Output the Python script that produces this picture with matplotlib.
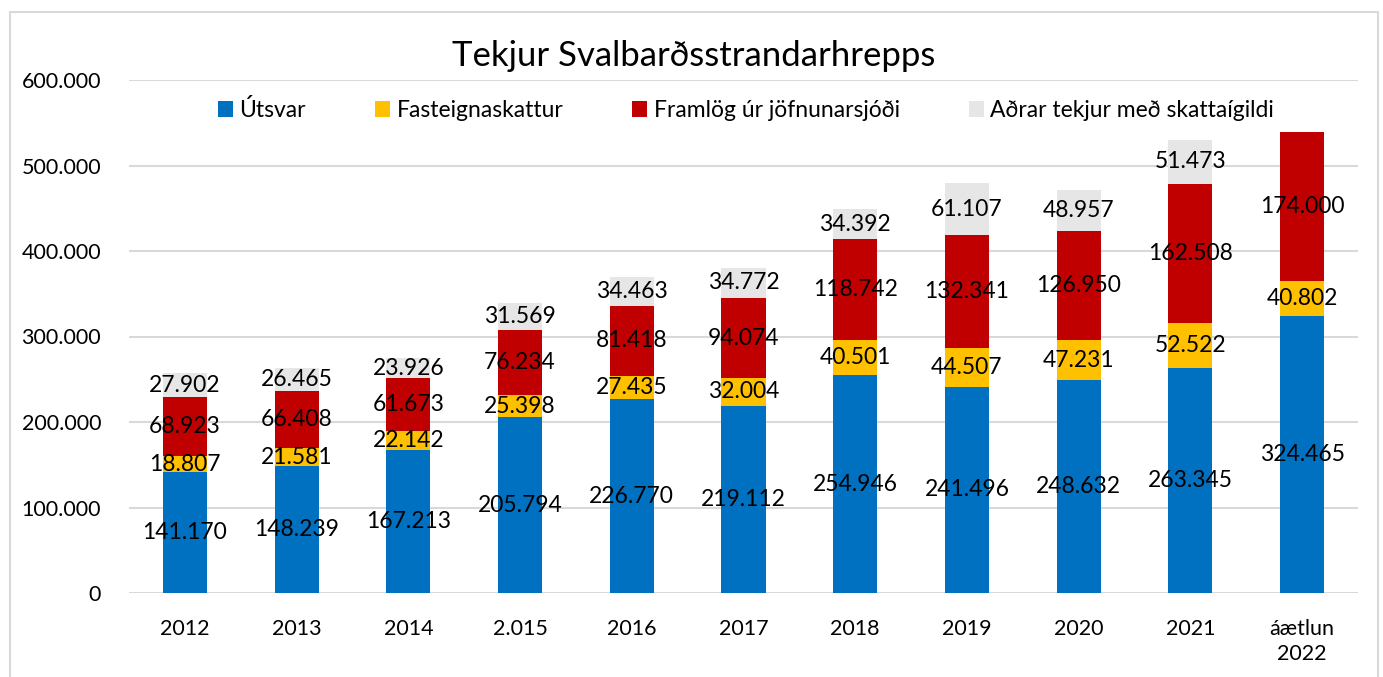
import matplotlib
matplotlib.use("Agg")
import matplotlib.pyplot as plt
from matplotlib.patches import Rectangle, Patch
import numpy as np

plt.rcParams['font.family'] = ['Lato', 'DejaVu Sans']

categories = ['2012', '2013', '2014', '2.015', '2016', '2017', '2018', '2019', '2020', '2021', 'áætlun\n2022']
utsvar = [141170, 148239, 167213, 205794, 226770, 219112, 254946, 241496, 248632, 263345, 324465]
fasteign = [18807, 21581, 22142, 25398, 27435, 32004, 40501, 44507, 47231, 52522, 40802]
framlog = [68923, 66408, 61673, 76234, 81418, 94074, 118742, 132341, 126950, 162508, 174000]
adrar = [27902, 26465, 23926, 31569, 34463, 34772, 34392, 61107, 48957, 51473, 0]
series_names = ['Útsvar', 'Fasteignaskattur', 'Framlög úr jöfnunarsjóði', 'Aðrar tekjur með skattaígildi']
colors = ['#0070C0', '#FFC000', '#C00000', '#E7E6E6']
title = 'Tekjur Svalbarðsstrandarhrepps'
yticks = [0, 100000, 200000, 300000, 400000, 500000, 600000]

def fmt(v):
    return f"{v:,}".replace(',', '.')

W, H = 1383, 677
fig = plt.figure(figsize=(W / 100, H / 100), dpi=100)
fig.patches.append(Rectangle((10 / W, -0.05), (1378 - 10) / W, 1 - 12 / H + 0.05,
                             transform=fig.transFigure, fill=False,
                             edgecolor='#D9D9D9', linewidth=1.5, zorder=0))

ax = fig.add_axes([129 / W, 1 - 593 / H, (1358 - 129) / W, (593 - 80) / H])
x = np.arange(len(categories))
bottom = np.zeros(len(categories))
for vals, c, name in zip([utsvar, fasteign, framlog, adrar], colors, series_names):
    vals = np.array(vals, dtype=float)
    cont = ax.bar(x, vals, 0.395, bottom=bottom, color=c, label=name, zorder=3)
    labels = [fmt(int(v)) if v > 0 else '' for v in vals]
    ax.bar_label(cont, labels=labels, label_type='center', fontsize=16.5, color='black', zorder=4)
    bottom += vals

ax.set_xlim(-0.5, len(categories) - 0.5)
ax.set_ylim(0, 600000)
ax.set_yticks(yticks)
ax.set_yticklabels([fmt(v) for v in yticks])
ax.set_xticks(x)
ax.set_xticklabels(categories, linespacing=1.3)
ax.tick_params(axis='both', length=0, labelsize=15.5, colors='black')
ax.tick_params(axis='y', pad=20)
ax.tick_params(axis='x', pad=19)
ax.grid(axis='y', color='#D9D9D9', linewidth=1.5, zorder=0)
for s in ax.spines.values():
    s.set_visible(False)

fig.text(694 / W, 1 - 56 / H, title, ha='center', va='center', fontsize=25, color='black')

handles = [Patch(facecolor=c) for c in colors]
leg = fig.legend(handles, series_names, loc='center', bbox_to_anchor=(746 / W, 1 - 110 / H),
                 ncol=4, frameon=False, fontsize=16.5, handlelength=0.65, handleheight=0.65,
                 handletextpad=0.3, columnspacing=3.0)

fig.savefig('out.png', dpi=100)
